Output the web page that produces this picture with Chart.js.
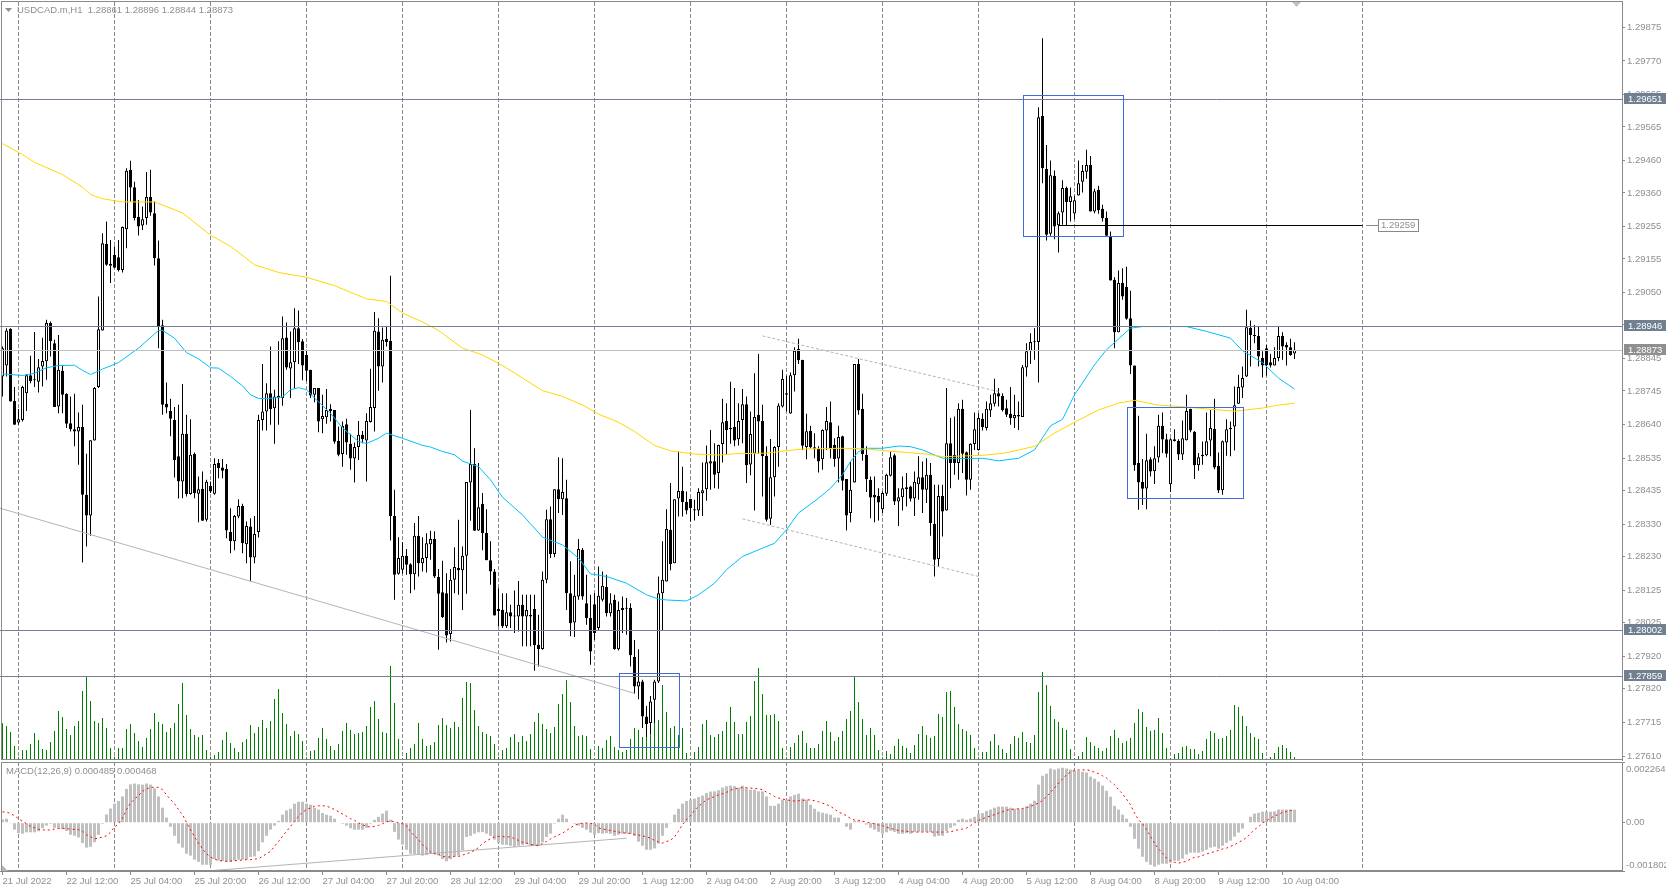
<!DOCTYPE html>
<html>
<head>
<meta charset="utf-8">
<title>USDCAD.m,H1</title>
<script src="https://cdn.jsdelivr.net/npm/chart.js@4"></script>
<style>
  html, body { margin: 0; padding: 0; background: #fff; overflow: hidden; }
  canvas { position: absolute; left: 0; display: block; }
  #main { top: 0; }
  #macd { top: 761px; }
</style>
</head>
<body>
<canvas id="main" width="1666" height="761"></canvas>
<canvas id="macd" width="1666" height="129"></canvas>
<script>
/* -------- Candles: prices in points, 28873 means 1.28873 -------- */
const opens = [
  28790,28824,28938,28714,28647,28655,28738,28794,28780,28774,28821,28837,28956,28893,28697,28808,28736,28645,28626,28619,
  28633,28423,28358,28591,28757,28933,29202,29140,29168,29160,29121,29247,29432,29378,29285,29259,29282,29347,29297,29157,
  28949,28705,28683,28655,28542,28464,28612,28425,28549,28426,28441,28345,28450,28426,28521,28507,28503,28307,28278,28355,
  28388,28269,28324,28228,28307,28655,28681,28738,28691,28730,28723,28911,28815,28834,28940,28899,28857,28811,28733,28754,
  28657,28663,28690,28686,28590,28549,28642,28581,28535,28571,28609,28591,28649,28692,28930,28821,28906,28901,28357,28177,
  28190,28233,28207,28176,28295,28210,28226,28269,28285,28167,28120,28117,27990,28159,28195,28188,28233,28461,28518,28312,
  28395,28304,28219,28184,28068,28065,28014,28058,28047,28045,28081,28045,28050,28068,27957,27944,28159,28347,28239,28440,
  28409,28412,28117,28026,28107,28252,28086,28040,28083,28009,28097,28136,28055,28097,27943,28065,28071,28071,27919,27827,
  27843,27734,27714,27786,27843,28117,28153,28314,28210,28411,28435,28400,28410,28378,28374,28427,28440,28520,28527,28490,
  28580,28652,28630,28633,28595,28655,28704,28517,28550,28671,28652,28544,28348,28477,28571,28697,28738,28675,28794,28875,
  28841,28571,28621,28570,28565,28533,28622,28648,28578,28535,28604,28472,28366,28461,28829,28690,28547,28469,28423,28419,
  28378,28426,28482,28545,28402,28415,28440,28448,28411,28455,28477,28438,28485,28332,28223,28419,28374,28583,28547,28521,
  28690,28555,28469,28580,28562,28659,28630,28684,28705,28738,28730,28691,28674,28660,28670,28664,28818,28868,28896,28897,
  29599,29434,29233,29413,29260,29299,29375,29332,29296,29352,29395,29426,29447,29302,29370,29311,29283,29225,29090,28927,
  29080,29069,28971,28824,28521,28462,28442,28533,28496,28538,28637,28595,28455,28595,28590,28548,28592,28690,28618,28514,
  28547,28545,28591,28627,28513,28437,28585,28631,28635,28705,28756,28790,28941,28919,28916,28847,28878,28834,28824,28847,
  28916,28888,28881,28861
];
const highs = [
  28883,28940,28940,28757,28689,28761,28798,28854,28928,28844,28910,28966,28961,28904,28919,28826,28738,28728,28736,28678,
  28702,28550,28592,28757,29038,29235,29271,29214,29194,29214,29256,29437,29460,29395,29338,29318,29425,29432,29333,29212,
  28966,28771,28721,28695,28702,28767,28671,28657,28554,28479,28495,28469,28464,28536,28534,28534,28518,28381,28360,28409,
  28395,28340,28350,28357,28671,28829,28769,28883,28749,28899,28976,28958,28930,29002,28995,28906,28873,28811,28754,28754,
  28733,28751,28704,28686,28635,28650,28659,28612,28585,28652,28621,28676,28814,28990,28971,28942,28945,29103,28438,28291,
  28275,28254,28210,28335,28357,28291,28303,28311,28309,28192,28218,28179,28192,28260,28345,28262,28462,28686,28567,28521,
  28428,28378,28278,28192,28132,28117,28117,28081,28125,28155,28112,28112,28112,28112,28050,28184,28376,28386,28440,28539,
  28536,28469,28216,28174,28285,28257,28174,28112,28117,28200,28184,28174,28117,28112,28091,28107,28102,28086,27972,27943,
  27848,27767,27798,27848,28169,28278,28378,28459,28409,28557,28510,28433,28410,28407,28443,28523,28576,28624,28583,28578,
  28721,28707,28774,28754,28707,28751,28728,28681,28800,28860,28702,28573,28596,28573,28707,28811,28792,28802,28881,28907,
  28842,28674,28637,28614,28573,28626,28695,28712,28598,28637,28606,28472,28526,28829,28844,28736,28573,28479,28479,28443,
  28433,28488,28557,28550,28443,28479,28490,28451,28495,28542,28526,28536,28521,28454,28454,28454,28754,28661,28666,28707,
  28718,28557,28583,28678,28676,28676,28712,28733,28783,28754,28738,28718,28757,28733,28712,28826,28893,28924,28940,29626,
  29840,29509,29461,29430,29302,29399,29380,29377,29351,29461,29447,29494,29475,29373,29382,29323,29302,29240,29098,29119,
  29126,29131,29056,28824,28668,28534,28612,28539,28573,28671,28678,28612,28598,28626,28595,28653,28733,28690,28621,28552,
  28588,28678,28686,28721,28554,28591,28657,28650,28759,28795,28821,28997,28964,28950,28945,28868,28888,28860,28881,28945,
  28927,28896,28907,28896
];
const lows = [
  28728,28790,28712,28640,28640,28650,28683,28769,28757,28740,28759,28780,28852,28695,28676,28676,28630,28619,28573,28516,
  28212,28262,28295,28591,28754,28933,29134,29080,29128,29116,29113,29188,29333,29274,29228,29245,29261,29289,29135,28878,
  28671,28676,28604,28476,28411,28412,28417,28423,28412,28337,28342,28340,28428,28423,28474,28474,28288,28241,28250,28350,
  28241,28210,28155,28210,28290,28622,28622,28640,28581,28640,28699,28811,28723,28751,28829,28778,28776,28723,28710,28617,
  28614,28643,28650,28581,28542,28510,28547,28500,28461,28531,28583,28464,28647,28619,28746,28771,28883,28281,28097,28174,
  28177,28174,28117,28128,28169,28184,28181,28221,28164,27941,28040,27964,27967,28117,28112,28065,28115,28342,28311,28311,
  28250,28219,28143,28048,28014,28009,28009,28009,27993,27998,27952,27952,27952,27876,27889,27941,28148,28226,28229,28366,
  28360,28065,27983,27981,28097,28097,28019,27895,27972,28003,28091,28045,28045,27941,27939,27993,27988,27889,27805,27788,
  27698,27670,27680,27714,27838,28003,28153,28188,28210,28355,28355,28362,28340,28343,28357,28357,28404,28438,28443,28441,
  28523,28547,28581,28573,28576,28583,28459,28483,28374,28550,28417,28340,28329,28417,28510,28694,28681,28674,28743,28829,
  28562,28533,28567,28536,28492,28500,28562,28536,28510,28461,28436,28312,28337,28461,28671,28528,28431,28350,28337,28343,
  28366,28419,28479,28391,28326,28374,28386,28402,28357,28407,28366,28397,28295,28169,28200,28293,28374,28443,28485,28469,
  28490,28420,28438,28562,28560,28622,28622,28664,28697,28697,28681,28664,28640,28630,28624,28664,28790,28829,28842,28771,
  29390,29212,29227,29216,29175,29261,29260,29271,29278,29352,29361,29404,29302,29297,29295,29271,29227,29088,28878,28927,
  29028,28966,28798,28497,28376,28391,28378,28479,28456,28523,28552,28538,28431,28588,28531,28531,28591,28617,28472,28497,
  28516,28542,28542,28502,28428,28423,28544,28542,28560,28705,28723,28788,28821,28893,28821,28787,28792,28818,28824,28837,
  28842,28824,28854,28844
];
const closes = [
  28878,28933,28712,28640,28657,28757,28794,28776,28778,28819,28838,28956,28899,28695,28811,28733,28643,28626,28619,28633,
  28423,28358,28592,28754,28937,29204,29137,29134,29128,29121,29254,29429,29377,29282,29256,29278,29347,29299,29157,28947,
  28702,28694,28659,28531,28464,28612,28425,28547,28428,28440,28342,28463,28433,28518,28505,28497,28312,28278,28357,28388,
  28272,28326,28228,28301,28655,28681,28738,28689,28728,28722,28909,28818,28834,28940,28896,28824,28808,28731,28754,28650,
  28667,28686,28683,28587,28547,28637,28585,28535,28571,28609,28595,28652,28695,28932,28821,28904,28897,28357,28174,28226,
  28233,28205,28176,28295,28210,28226,28272,28285,28169,28115,28043,27986,28159,28198,28188,28233,28462,28518,28311,28384,
  28304,28219,28184,28048,28062,28014,28058,28045,28045,28081,28045,28065,28045,27955,27944,28159,28347,28239,28440,28409,
  28431,28117,28024,28109,28254,28107,28040,27936,27993,28109,28140,28055,28086,27943,28065,28071,28069,27924,27827,27843,
  27734,27711,27781,27843,28117,28159,28316,28208,28409,28434,28400,28374,28381,28374,28431,28437,28524,28527,28485,28577,
  28648,28624,28626,28591,28652,28704,28514,28611,28664,28650,28542,28345,28477,28571,28700,28782,28733,28794,28870,28840,
  28575,28620,28570,28564,28526,28624,28652,28567,28534,28602,28466,28358,28438,28829,28684,28549,28471,28414,28414,28399,
  28428,28485,28539,28402,28415,28443,28446,28410,28463,28477,28438,28485,28335,28221,28419,28371,28583,28521,28521,28690,
  28550,28469,28581,28626,28661,28632,28690,28707,28738,28728,28686,28671,28661,28670,28666,28819,28868,28897,28899,29595,
  29437,29230,29415,29256,29297,29375,29332,29350,29337,29390,29428,29447,29302,29365,29306,29281,29227,29088,28927,29080,
  29038,28969,28824,28514,28461,28441,28530,28495,28536,28637,28594,28550,28595,28590,28548,28598,28683,28622,28514,28539,
  28542,28589,28630,28507,28436,28589,28626,28626,28701,28757,28785,28943,28919,28916,28852,28824,28826,28824,28847,28916,
  28883,28880,28857,28873
];

/* -------- Tick volume in the lower part of the price window -------- */
const tickVolume = [
  110,102,84,42,8,30,30,48,81,60,33,30,54,87,147,129,93,75,102,117,
  207,249,177,117,111,126,96,36,10,36,36,93,108,81,57,39,66,93,141,114,
  108,84,96,111,168,231,135,93,75,69,75,30,10,15,24,60,84,51,36,24,
  54,63,105,81,99,120,96,117,183,213,141,108,72,87,78,57,8,27,30,66,
  96,63,42,30,48,87,111,90,78,81,84,102,159,177,123,84,81,282,171,63,
  5,21,36,48,111,63,42,45,54,105,126,105,96,114,99,186,234,231,150,102,
  84,78,72,48,9,30,36,69,78,54,72,57,78,114,141,108,93,81,99,168,
  198,240,174,102,72,75,72,33,5,42,36,60,72,39,30,24,30,63,96,90,
  69,69,81,111,120,225,144,96,102,75,96,21,5,24,39,108,120,75,69,78,
  87,114,159,114,78,78,114,132,237,276,198,135,135,138,117,36,8,39,51,75,
  87,51,36,36,48,87,117,84,57,69,87,123,147,249,174,123,75,96,75,30,
  8,27,18,42,63,42,36,21,45,78,102,75,66,72,138,129,204,207,159,108,
  93,87,75,36,8,24,24,57,78,45,33,21,48,72,66,84,54,51,75,204,
  264,225,162,123,114,96,90,33,5,12,24,69,54,42,36,27,36,72,90,66,
  51,57,66,111,153,144,99,87,90,126,81,36,5,18,21,39,42,33,33,18,
  27,63,87,81,63,66,72,90,165,159,132,102,81,69,63,21,2,9,21,39,
  45,36,24,9
];

/* -------- MACD(12,26,9), in units of 0.00001 -------- */
const macdHist = [
  12,15,-1,-26,-39,-41,-36,-36,-36,-32,-20,-11,-4,-19,-21,-24,-31,-45,-49,-55,
  -76,-93,-90,-73,-45,-4,31,53,71,81,98,126,143,146,143,142,146,142,128,98,
  56,19,-15,-49,-78,-93,-116,-123,-138,-146,-157,-157,-157,-136,-141,-143,-146,-146,-142,-138,
  -138,-138,-128,-126,-106,-73,-49,-26,-11,7,30,46,52,71,78,78,71,67,56,49,
  36,30,26,15,0,-4,-11,-21,-26,-26,-26,-19,-4,11,22,34,45,11,-34,-63,
  -82,-101,-116,-117,-119,-123,-121,-116,-117,-122,-136,-144,-136,-126,-123,-103,-53,-49,-41,-36,
  -35,-41,-49,-63,-76,-82,-83,-86,-90,-86,-83,-80,-86,-86,-88,-73,-53,-41,-4,15,
  30,15,0,-4,-11,-19,-26,-37,-45,-39,-41,-39,-41,-49,-45,-41,-41,-41,-49,-71,
  -86,-101,-101,-96,-78,-49,-19,-1,30,52,71,81,86,90,96,101,111,116,117,121,
  131,136,138,136,131,138,129,123,123,117,117,98,63,63,71,86,86,98,104,108,
  90,86,67,52,41,37,34,30,19,19,2,-15,-26,7,7,4,-7,-19,-26,-34,
  -41,-36,-30,-34,-41,-41,-39,-41,-35,-34,-34,-34,-35,-52,-49,-49,-31,-19,-11,11,
  15,11,15,22,34,36,44,49,56,60,60,60,56,52,52,52,61,71,82,142,
  175,183,202,198,202,205,202,198,194,194,190,187,172,164,153,138,119,97,63,49,
  30,15,-15,-60,-97,-127,-146,-157,-164,-157,-153,-153,-149,-142,-142,-134,-119,-112,-112,-112,
  -108,-101,-93,-90,-97,-86,-75,-67,-52,-37,-22,0,22,34,37,41,41,41,42,49,
  49,49,49,49
];
const macdSignal = [
  40,40,34,26,15,5,-4,-14,-19,-25,-26,-29,-26,-24,-22,-21,-22,-24,-25,-26,
  -32,-45,-53,-60,-58,-53,-49,-36,-16,-4,17,49,73,88,101,117,126,132,132,132,
  123,104,86,71,49,30,1,-26,-53,-76,-98,-116,-128,-136,-141,-143,-144,-143,-142,-141,
  -139,-138,-138,-136,-134,-126,-116,-107,-88,-70,-51,-32,-14,5,24,39,49,55,61,63,
  63,62,56,49,41,32,24,15,9,-1,-7,-14,-16,-14,-10,-4,4,6,4,-1,
  -4,-11,-34,-49,-63,-82,-95,-109,-116,-118,-126,-128,-128,-126,-126,-121,-116,-111,-103,-93,
  -78,-68,-60,-53,-51,-52,-53,-53,-60,-66,-73,-76,-81,-83,-85,-78,-70,-61,-53,-46,
  -39,-29,-19,-10,-4,-2,-1,-2,-6,-19,-24,-26,-29,-32,-35,-37,-39,-40,-44,-46,
  -49,-53,-58,-66,-72,-76,-70,-66,-53,-32,-7,11,26,46,61,73,86,91,98,104,
  108,113,121,126,128,131,131,129,128,126,123,114,107,98,92,88,86,82,81,82,
  83,85,85,82,78,73,68,61,51,39,34,26,16,10,9,6,2,-1,-4,-9,
  -11,-17,-21,-25,-29,-31,-32,-34,-35,-35,-35,-35,-35,-35,-35,-35,-35,-34,-30,-26,
  -24,-20,-11,-1,9,14,21,25,30,36,41,46,49,51,52,53,56,61,67,73,
  83,98,113,129,148,163,179,189,195,197,197,197,195,188,183,175,167,153,142,123,
  108,88,67,36,11,-4,-26,-51,-76,-98,-113,-132,-142,-148,-151,-147,-144,-136,-129,-127,
  -122,-117,-112,-108,-103,-98,-95,-88,-82,-73,-66,-56,-41,-26,-15,-1,7,17,25,31,
  39,42,45,47
];

/* -------- Moving averages, read at the bars listed beside them -------- */
const fastMaBars = [0,5,8,11,14,18,20,22,25,29,34,39,40,43,46,49,52,54,57,60,62,64,66,70,72,74,76,78,82,85,89,91,94,96,100,105,107,110,113,115,119,122,125,130,135,140,144,147,151,156,161,164,166,171,174,178,181,185,190,193,196,199,204,207,210,212,214,216,220,224,227,230,235,241,245,249,254,258,262,265,268,273,276,282,285,296,301,307,310,315,319,323];
const fastMa = [28798,28793,28800,28817,28824,28825,28809,28796,28813,28833,28878,28933,28933,28909,28864,28845,28817,28816,28790,28761,28733,28722,28721,28726,28749,28755,28749,28723,28676,28630,28588,28582,28598,28614,28598,28576,28571,28557,28547,28527,28510,28469,28415,28360,28291,28267,28226,28177,28169,28148,28112,28099,28096,28093,28112,28148,28190,28231,28257,28272,28314,28366,28412,28443,28485,28526,28557,28567,28567,28574,28572,28562,28536,28535,28536,28528,28536,28562,28637,28657,28733,28826,28873,28940,28945,28945,28930,28909,28870,28833,28785,28751];
const slowMaBars = [0,5,8,15,20,22,25,28,30,35,38,45,52,57,63,69,76,83,91,96,100,105,109,115,120,125,130,135,140,145,149,154,158,163,167,173,179,183,191,200,210,216,220,226,231,235,245,251,258,263,268,274,279,283,289,294,304,308,315,319,323];
const slowMa = [29513,29479,29455,29417,29378,29355,29342,29336,29332,29332,29332,29298,29229,29194,29137,29113,29098,29072,29031,29023,28987,28959,28933,28878,28857,28824,28785,28746,28728,28702,28673,28648,28619,28576,28559,28549,28546,28550,28552,28565,28567,28565,28560,28554,28549,28541,28545,28553,28573,28614,28648,28686,28707,28716,28701,28697,28686,28682,28692,28701,28707];

/* -------- Price and time axes -------- */
const priceTicks = [1.29875,1.29770,1.29665,1.29565,1.29460,1.29360,1.29255,1.29155,1.29050,1.28950,1.28845,1.28745,1.28640,1.28535,1.28435,1.28330,1.28230,1.28125,1.28025,1.27920,1.27820,1.27715,1.27610];
const timeLabels = ["21 Jul 2022","22 Jul 12:00","25 Jul 04:00","25 Jul 20:00","26 Jul 12:00","27 Jul 04:00","27 Jul 20:00","28 Jul 12:00","29 Jul 04:00","29 Jul 20:00","1 Aug 12:00","2 Aug 04:00","2 Aug 20:00","3 Aug 12:00","4 Aug 04:00","4 Aug 20:00","5 Aug 12:00","8 Aug 04:00","8 Aug 20:00","9 Aug 12:00","10 Aug 04:00"];
const barsPerLabel = 16;
const separatorBars = [4,28,52,76,100,124,148,172,196,220,244,268,292,316,340];
const macdLabels = [0.002264,0,-0.001802];

/* -------- Drawn objects on the price window -------- */
const levels = [1.29651,1.28946,1.28002,1.27859];
const bidPrice = 1.28873;
const boxBarsFrom = [255,281,154];
const boxBarsTo = [280,310,169];
const boxHighs = [1.29663,1.28695,1.27868];
const boxLows = [1.29225,1.28412,1.27639];
const targetPrice = 1.29259;
const targetBars = [264,340];

const supportBars = [-0.625,158];
const supportPrices = [1.28381,1.27806];
const channelTopBars = [190,249];
const channelTopPrices = [1.28916,1.28743];
const channelLowBars = [185,244];
const channelLowPrices = [1.28348,1.28169];
const macdTrendBars = [53,156];
const macdTrend = [-178,-58];

const TITLE = "USDCAD.m,H1  1.28861 1.28896 1.28844 1.28873";
const MACD_TITLE = "MACD(12,26,9) 0.000485 0.000468";

const FONT = "'Liberation Sans', sans-serif";
const GRAY = "#8a8a8a";
const TEXT_GRAY = "#8f8f8f";
const SLATE = "#708090";
const SILVER = "#C0C0C0";
const ROYAL = "#4169E1";

Chart.defaults.font.family = FONT;
Chart.defaults.font.size = 9.5;
Chart.defaults.color = TEXT_GRAY;
Chart.defaults.animation = false;

const toPrice = v => 1 + v / 100000;
const toMacd = v => v / 100000;
const xMin = -0.625, xMax = 404.875;

/* -------- Helpers -------- */
function lineSet(bars, values, color, yAxisID, dash, order) {
  return {
    type: "line",
    data: bars.map((b, i) => ({ x: b, y: values[i] })),
    borderColor: color,
    borderWidth: 1,
    borderDash: dash || [],
    pointRadius: 0,
    tension: 0,
    yAxisID,
    order: order || 1
  };
}

function barSet(data, color, thickness, yAxisID, order, extra) {
  return Object.assign({
    type: "bar",
    data,
    backgroundColor: color,
    barThickness: thickness,
    grouped: false,
    inflateAmount: 0,
    borderSkipped: false,
    yAxisID,
    order
  }, extra || {});
}

/* keep the plot area exact: no room reserved for the outer tick labels */
function noLabelPadding(scale) {
  scale.paddingTop = 0;
  scale.paddingBottom = 0;
  scale.paddingLeft = 0;
  scale.paddingRight = 0;
}

function crisp(v) { return Math.round(v) + 0.5; }

function drawSeparators(chart, top, bottom) {
  const x = chart.scales.x, ctx = chart.ctx;
  ctx.save();
  ctx.strokeStyle = GRAY;
  ctx.setLineDash([4, 2]);
  ctx.lineWidth = 1;
  separatorBars.forEach(b => {
    const px = Math.floor(x.getPixelForValue(b)) + 0.5;
    ctx.beginPath();
    ctx.moveTo(px, top);
    ctx.lineTo(px, bottom);
    ctx.stroke();
  });
  ctx.restore();
}

function drawFrame(chart) {
  const a = chart.chartArea, ctx = chart.ctx;
  ctx.save();
  ctx.strokeStyle = GRAY;
  ctx.lineWidth = 1;
  ctx.strokeRect(1.5, a.top + 0.5, a.right - 1, a.bottom - a.top - 1);
  ctx.restore();
}

function hLine(ctx, x0, x1, y, color) {
  ctx.strokeStyle = color;
  ctx.beginPath();
  ctx.moveTo(x0, y);
  ctx.lineTo(x1, y);
  ctx.stroke();
}

function priceBox(ctx, y, text, fill) {
  ctx.fillStyle = fill;
  ctx.fillRect(1624, Math.round(y) - 6, 42, 11);
  ctx.fillStyle = "#fff";
  ctx.fillText(text, 1628, Math.round(y));
}

/* -------- Objects, frame and texts of the price window -------- */
const mainDecor = {
  id: "mainDecor",
  beforeDatasetsDraw(chart) {
    drawSeparators(chart, 2, chart.chartArea.bottom);
  },
  afterDatasetsDraw(chart) {
    const { x, y } = chart.scales, ctx = chart.ctx, a = chart.chartArea;
    ctx.save();
    ctx.lineWidth = 1;
    levels.forEach(p => hLine(ctx, 0, a.right, crisp(y.getPixelForValue(p)), SLATE));
    hLine(ctx, 0, a.right, crisp(y.getPixelForValue(bidPrice)), SILVER);

    ctx.strokeStyle = ROYAL;
    boxBarsFrom.forEach((from, i) => {
      const x0 = crisp(x.getPixelForValue(from)), x1 = crisp(x.getPixelForValue(boxBarsTo[i]));
      const y0 = crisp(y.getPixelForValue(boxHighs[i])), y1 = crisp(y.getPixelForValue(boxLows[i]));
      ctx.strokeRect(x0, y0, x1 - x0, y1 - y0);
    });

    const ty = crisp(y.getPixelForValue(targetPrice));
    hLine(ctx, x.getPixelForValue(targetBars[0]), x.getPixelForValue(targetBars[1]), ty, "#000");
    ctx.restore();
  },
  afterDraw(chart) {
    const { y } = chart.scales, ctx = chart.ctx;
    drawFrame(chart);
    ctx.save();
    ctx.font = "9.5px " + FONT;
    ctx.textBaseline = "middle";

    ctx.fillStyle = TEXT_GRAY;
    ctx.beginPath();
    ctx.moveTo(5, 8); ctx.lineTo(12, 8); ctx.lineTo(8.5, 12);
    ctx.fill();
    ctx.fillText(TITLE, 17, 10);

    levels.forEach(p => priceBox(ctx, y.getPixelForValue(p), p.toFixed(5), SLATE));
    priceBox(ctx, y.getPixelForValue(bidPrice), bidPrice.toFixed(5), "#8f8f8f");

    /* boxed label of the target line */
    const ty = crisp(y.getPixelForValue(targetPrice));
    ctx.lineWidth = 1;
    hLine(ctx, 1366, 1378, ty, GRAY);
    ctx.fillStyle = "#fff";
    ctx.fillRect(1378, ty - 6, 40, 12);
    ctx.strokeStyle = GRAY;
    ctx.strokeRect(1378.5, ty - 6, 40, 12);
    ctx.fillStyle = TEXT_GRAY;
    ctx.fillText(targetPrice.toFixed(5), 1381, ty);

    /* chart shift marker */
    ctx.fillStyle = SILVER;
    ctx.beginPath();
    ctx.moveTo(1292, 2); ctx.lineTo(1301, 2); ctx.lineTo(1296.5, 7);
    ctx.fill();
    ctx.restore();
  }
};

/* -------- Frame and texts of the MACD window -------- */
const macdDecor = {
  id: "macdDecor",
  beforeDatasetsDraw(chart) {
    drawSeparators(chart, chart.chartArea.top, chart.chartArea.bottom - 2);
  },
  afterDraw(chart) {
    const ctx = chart.ctx, y = chart.scales.y, a = chart.chartArea;
    drawFrame(chart);
    ctx.save();
    ctx.font = "9.5px " + FONT;
    ctx.textBaseline = "middle";
    ctx.fillStyle = TEXT_GRAY;
    ctx.fillText(MACD_TITLE, 6, 10);
    /* the outer labels sit inside the window, as in the terminal */
    ctx.fillText(macdLabels[0].toFixed(6), 1626, y.getPixelForValue(macdLabels[0]) + 7);
    ctx.fillText(macdLabels[1].toFixed(2), 1626, y.getPixelForValue(macdLabels[1]));
    ctx.fillText(macdLabels[2].toFixed(6), 1626, y.getPixelForValue(macdLabels[2]) - 6);

    ctx.fillStyle = "#b5b5b5";
    ctx.beginPath();
    ctx.moveTo(2, a.bottom - 6); ctx.lineTo(2, a.bottom); ctx.lineTo(8, a.bottom);
    ctx.fill();
    ctx.restore();
  }
};

/* -------- Price window -------- */
const wicks = highs.map((h, i) => ({ x: i, y: [toPrice(lows[i]), toPrice(h)] }));
const bodies = opens.map((o, i) => ({ x: i, y: [toPrice(o), toPrice(closes[i])] }));
const bodyFill = opens.map((o, i) => closes[i] >= o ? "#fff" : "#000");

new Chart(document.getElementById("main"), {
  type: "bar",
  data: {
    datasets: [
      barSet(tickVolume.map((v, i) => ({ x: i, y: v })), "#008000", 1, "vol", 9),
      barSet(wicks, "#000", 1, "y", 8),
      barSet(bodies, bodyFill, 3, "y", 7, { borderColor: "#000", borderWidth: 1, minBarLength: 1 }),
      lineSet(supportBars, supportPrices, "#b4b4b4", "y", [], 6),
      lineSet(channelTopBars, channelTopPrices, "#b4b4b4", "y", [3, 2], 6),
      lineSet(channelLowBars, channelLowPrices, "#b4b4b4", "y", [3, 2], 6),
      lineSet(fastMaBars, fastMa.map(toPrice), "#00BFFF", "y", [], 2),
      lineSet(slowMaBars, slowMa.map(toPrice), "#FFD700", "y", [], 1)
    ]
  },
  options: {
    responsive: false,
    layout: { padding: { top: 1, bottom: 1, left: 0, right: 0 } },
    plugins: { legend: { display: false }, tooltip: { enabled: false } },
    scales: {
      x: { type: "linear", min: xMin, max: xMax, offset: false, bounds: "data", display: false, grid: { display: false } },
      vol: { type: "linear", display: false, min: 0, max: 2277, grid: { display: false } },
      y: {
        type: "linear",
        position: "right",
        min: 1.27599,
        max: 1.29956,
        bounds: "data",
        afterFit(scale) { scale.width = 44; noLabelPadding(scale); },
        afterBuildTicks(scale) { scale.ticks = priceTicks.map(v => ({ value: v })); },
        border: { color: GRAY },
        grid: { drawOnChartArea: false, tickLength: 3, tickColor: GRAY },
        ticks: {
          autoSkip: false,
          padding: 2,
          callback: v => v.toFixed(5)
        }
      }
    }
  },
  plugins: [mainDecor]
});

/* -------- MACD window -------- */
new Chart(document.getElementById("macd"), {
  type: "bar",
  data: {
    datasets: [
      barSet(macdHist.map((v, i) => ({ x: i, y: toMacd(v) })), SILVER, 3, "y", 5),
      lineSet(macdTrendBars, macdTrend.map(toMacd), "#b4b4b4", "y", [], 4),
      lineSet(macdHist.map((v, i) => i), macdSignal.map(toMacd), "#FF0000", "y", [2, 3], 1)
    ]
  },
  options: {
    responsive: false,
    layout: { padding: { top: 1, bottom: 0, left: 0, right: 0 } },
    plugins: { legend: { display: false }, tooltip: { enabled: false } },
    scales: {
      x: {
        type: "linear",
        min: xMin,
        max: xMax,
        offset: false,
        bounds: "data",
        afterFit(scale) { scale.height = 19; noLabelPadding(scale); },
        afterBuildTicks(scale) {
          scale.ticks = timeLabels.map((t, i) => ({ value: i * barsPerLabel }));
        },
        border: { color: GRAY },
        grid: { drawOnChartArea: false, offset: false, tickLength: 4, tickColor: GRAY },
        ticks: {
          autoSkip: false,
          maxRotation: 0,
          align: "start",
          padding: 1,
          callback: v => timeLabels[v / barsPerLabel] || ""
        }
      },
      y: {
        type: "linear",
        position: "right",
        min: macdLabels[2],
        max: macdLabels[0],
        bounds: "data",
        afterFit(scale) { scale.width = 44; noLabelPadding(scale); },
        afterBuildTicks(scale) { scale.ticks = macdLabels.map(v => ({ value: v })); },
        border: { color: GRAY },
        grid: { drawOnChartArea: false, tickLength: 3, tickColor: GRAY },
        ticks: { display: false }
      }
    }
  },
  plugins: [macdDecor]
});
</script>
</body>
</html>
